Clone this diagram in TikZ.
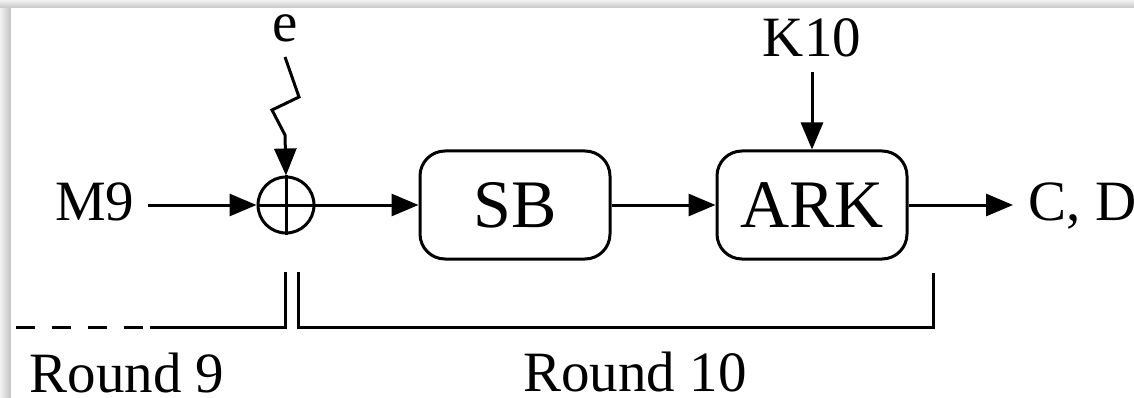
\documentclass[tikz,border=0pt]{standalone}
\usepackage{fontspec}
\setmainfont{Liberation Serif}
\usetikzlibrary{arrows.meta}
\begin{document}
\begin{tikzpicture}[x=1pt,y=-1pt,
  line width=3pt,
  arr/.style={-{Triangle[length=27pt,width=22pt]}},
  lbl/.style={inner sep=0pt,font=\fontsize{57}{60}\selectfont},
  blk/.style={draw,rounded corners=25pt,minimum width=190pt,minimum height=108pt,
    inner sep=0pt,font=\fontsize{68}{70}\selectfont},
  xorop/.style={draw,circle,minimum size=56pt,inner sep=0pt}]
\useasboundingbox (0,0) rectangle (1134,398);
% soft frame shadow
\shade[left color=gray!10,right color=gray!48,draw=none] (0,0) rectangle (11,398);
\shade[top color=gray!10,bottom color=gray!45,draw=none] (0,0) rectangle (1134,8);
\fill[white] (11,8) rectangle (1134,398);

% blocks
\node[xorop] (xor) at (286,205) {};
\draw (xor.north) -- (xor.south) (xor.west) -- (xor.east);
\node[blk] (sb) at (515,205) {SB};
\node[blk] (ark) at (812,205) {ARK};

% labels
\node[lbl,anchor=base east,inner xsep=12pt] (m9) at (148,220) {M9};
\node[lbl,anchor=base] (e) at (285,42) {e};
\node[lbl,anchor=base] (k10) at (812,57) {K10};
\node[lbl,anchor=base west,inner xsep=14pt] (cd) at (1013,220) {C, D};
\coordinate (z0) at (285,57);

% data path
\draw[arr] (m9.east |- xor.west) -- (xor.west);
\draw[arr] (xor.east) -- (sb.west);
\draw[arr] (sb.east) -- (ark.west);
\draw[arr] (ark.east) -- (cd.west |- ark.east);
\draw[arr,shorten <=13pt] (k10.south) -- (ark.north);
\draw[arr,line join=miter] (z0) -- (299,97) -- (272,110) -- (285,135) -- (xor.north);

% round brackets
\coordinate (r9a) at (16,327);
\coordinate (r9b) at (143,327);
\coordinate (r9c) at (150,327);
\coordinate (r9d) at (285,327);
\coordinate (r9e) at (285,272);
\coordinate (r10a) at (298,272);
\coordinate (r10b) at (298,327);
\coordinate (r10c) at (933,327);
\coordinate (r10d) at (933,273);
\draw[dash pattern=on 19pt off 17pt] (r9a) -- (r9b);
\draw[line join=miter] (r9c) -- (r9d) -- (r9e);
\draw[line join=miter] (r10a) -- (r10b) -- (r10c) -- (r10d);
\node[lbl,anchor=base west] (round9) at (28,392) {Round 9};
\node[lbl,anchor=base] (round10) at (635,391) {Round 10};
\end{tikzpicture}
\end{document}
